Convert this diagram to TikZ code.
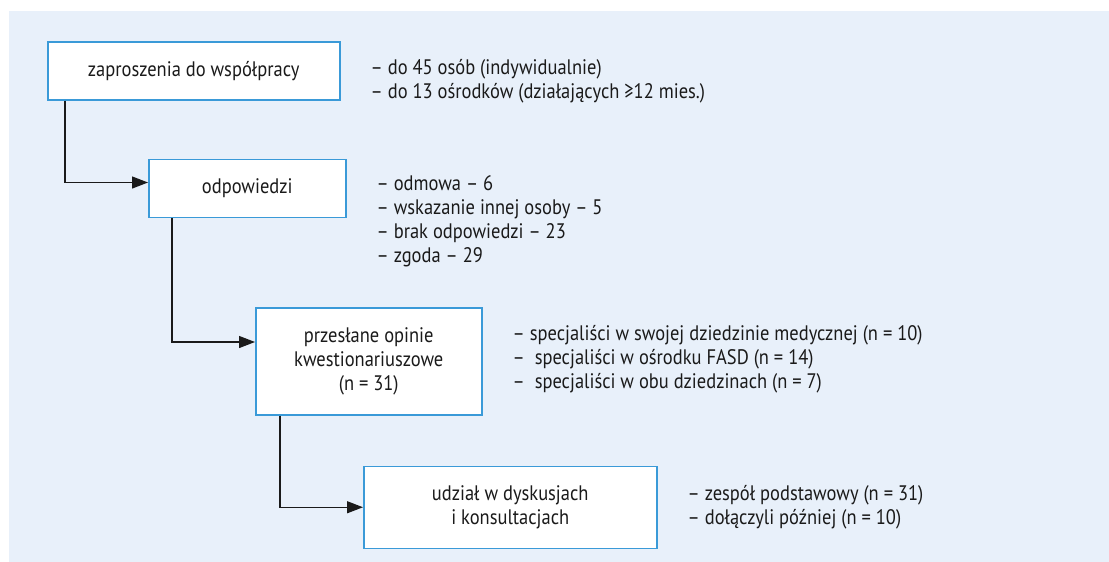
\documentclass[tikz,border=0pt]{standalone}
\usepackage{fontspec}
\setmainfont{PT Sans}[FakeStretch=0.88]
\usetikzlibrary{arrows.meta,positioning}
\definecolor{panelbg}{HTML}{E8F0FA}
\definecolor{boxline}{HTML}{3A9AD8}
\definecolor{inkline}{HTML}{1A1A1A}

\begin{document}
\begin{tikzpicture}[
    x=1pt, y=-1pt,
    every node/.style={font=\fontsize{21}{24}\selectfont, text=inkline},
    stage/.style={rectangle, draw=boxline, line width=1.5pt, fill=white, inner sep=0pt, align=center},
    notes/.style={align=left, inner sep=0pt},
    link/.style={draw=inkline, line width=1.3pt, -{Triangle[length=16pt, width=12pt]}}
]

% Background panel
\useasboundingbox (0,0) rectangle (1109,562);
\fill[panelbg] (9,11) rectangle (1109,562);

% Stages
\node[stage, minimum width=292pt, minimum height=58pt, anchor=north west] (invite) at (47,41) {zaproszenia do współpracy};
\node[stage, minimum width=197pt, minimum height=58pt, below right=58pt and 101pt of invite.south west] (reply) {odpowiedzi};
\node[stage, minimum width=226pt, minimum height=107pt, below right=89pt and 107pt of reply.south west] (opin) {przesłane opinie\\kwestionariuszowe\\(n = 31)};
\node[stage, minimum width=293pt, minimum height=82pt, below right=50pt and 108pt of opin.south west] (talks) {udział w dyskusjach\\i konsultacjach};

% Notes beside the stages
\node[notes, right=30pt of invite.east, yshift=-10pt] (inviteN) {– do 45 osób (indywidualnie)\\– do 13 ośrodków (działających ≥12 mies.)};
\node[notes, right=30pt of reply.east, yshift=-33pt] (replyN) {– odmowa – 6\\– wskazanie innej osoby – 5\\– brak odpowiedzi – 23\\– zgoda – 29};
\node[notes, right=30pt of opin.east, yshift=2pt] (opinN) {– specjaliści w swojej dziedzinie medycznej (n = 10)\\– \ specjaliści w ośrodku FASD (n = 14)\\– \ specjaliści w obu dziedzinach (n = 7)};
\node[notes, right=30pt of talks.east] (talksN) {– zespół podstawowy (n = 31)\\– dołączyli później (n = 10)};

% Connectors
\draw[link] ([xshift=18pt]invite.south west) |- ([yshift=-24pt]reply.north west);
\draw[link] ([xshift=24pt]reply.south west) |- ([yshift=-35pt]opin.north west);
\draw[link] ([xshift=25pt]opin.south west) |- (talks.west);

\end{tikzpicture}
\end{document}
